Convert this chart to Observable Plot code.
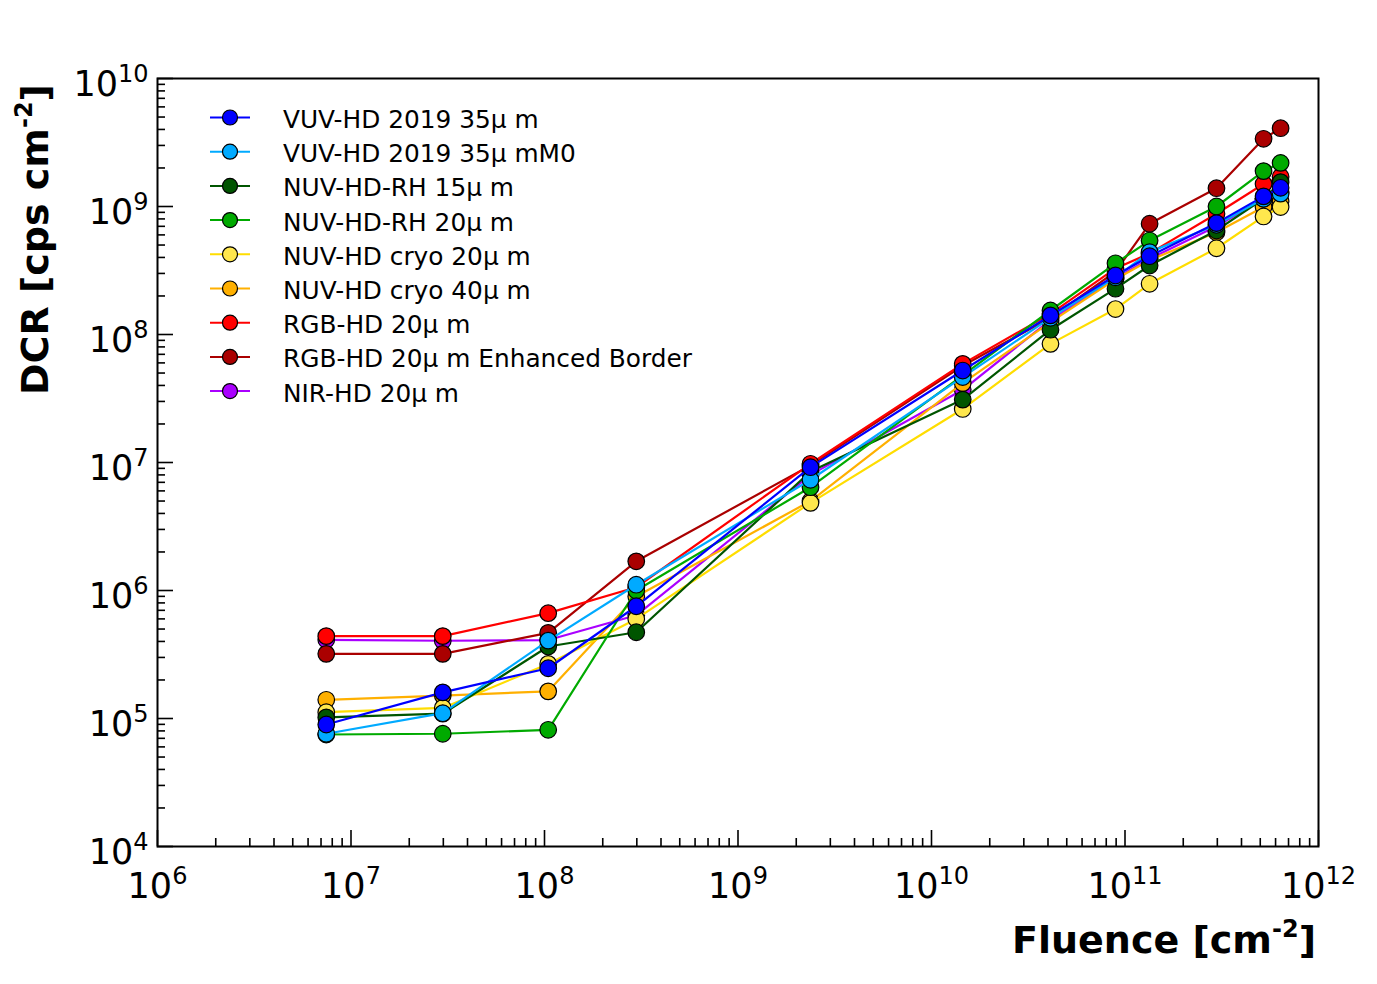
<!DOCTYPE html>
<html><head><meta charset="utf-8">
<script src="https://cdn.jsdelivr.net/npm/d3@7"></script>
<script src="https://cdn.jsdelivr.net/npm/@observablehq/plot@0.6"></script>
<style>body{margin:0;background:#fff;} svg{display:block}</style>
</head><body><div id="chart"></div>
<script>
// Fluence values [cm^-2]
const fluence = [7.45e6, 2.98e7, 1.045e8, 2.98e8, 2.37e9, 1.45e10, 4.12e10, 8.93e10, 1.34e11, 2.97e11, 5.2e11, 6.37e11];

// DCR values [cps cm^-2] per series
const vuvHd35 =      [8.98e4, 1.6e5,  2.47e5, 7.53e5, 9.19e6, 5.23e7, 1.41e8, 2.89e8, 4.09e8, 7.42e8, 1.2e9,  1.4e9];
const vuvHd35mM0 =   [7.6e4,  1.1e5,  4.06e5, 1.11e6, 7.33e6, 4.65e7, 1.35e8, 2.8e8,  4.4e8,  7.2e8,  1.15e9, 1.26e9];
const nuvRh15 =      [1.02e5, 1.09e5, 3.65e5, 4.72e5, 8.5e6,  3.1e7,  1.09e8, 2.28e8, 3.46e8, 6.5e8,  1.15e9, 1.55e9];
const nuvRh20 =      [7.5e4,  7.6e4,  8.16e4, 1.0e6,  6.41e6, 4.8e7,  1.54e8, 3.6e8,  5.42e8, 1.0e9,  1.89e9, 2.19e9];
const nuvCryo20 =    [1.12e5, 1.21e5, 2.67e5, 6.0e5,  4.84e6, 2.62e7, 8.45e7, 1.58e8, 2.49e8, 4.72e8, 8.36e8, 9.9e8];
const nuvCryo40 =    [1.4e5,  1.51e5, 1.63e5, 8.97e5, 5.0e6,  4.17e7, 1.25e8, 2.7e8,  3.8e8,  6.3e8,  9.9e8,  1.1e9];
const rgbHd20 =      [4.4e5,  4.4e5,  6.65e5, 1.06e6, 9.77e6, 5.9e7,  1.45e8, 3.28e8, 4.3e8,  8.77e8, 1.5e9,  1.71e9];
const rgbHd20EB =    [3.2e5,  3.2e5,  4.67e5, 1.69e6, 9.5e6,  5.7e7,  1.35e8, 3.1e8,  7.33e8, 1.39e9, 3.38e9, 4.09e9];
const nirHd20 =      [4.12e5, 4.05e5, 4.1e5,  6.4e5,  8.0e6,  3.7e7,  1.3e8,  2.75e8, 3.9e8,  7.0e8,  1.15e9, 1.3e9];

const seriesNames = ["VUV-HD 2019 35µ m", "VUV-HD 2019 35µ mM0", "NUV-HD-RH 15µ m", "NUV-HD-RH 20µ m",
  "NUV-HD cryo 20µ m", "NUV-HD cryo 40µ m", "RGB-HD 20µ m", "RGB-HD 20µ m Enhanced Border", "NIR-HD 20µ m"];
const seriesValues = [vuvHd35, vuvHd35mM0, nuvRh15, nuvRh20, nuvCryo20, nuvCryo40, rgbHd20, rgbHd20EB, nirHd20];
const lineColors =   ["#0000ff", "#00aaff", "#005500", "#00aa00", "#ffdd00", "#ffb000", "#ff0000", "#aa0000", "#aa00ff"];
const markerColors = ["#0000ff", "#00aaff", "#005500", "#00aa00", "#ffe74d", "#ffb000", "#ff0000", "#aa0000", "#aa00ff"];
const drawOrder = [8, 7, 6, 5, 4, 2, 3, 1, 0];

const xDecades = [6, 7, 8, 9, 10, 11, 12];
const yDecades = [4, 5, 6, 7, 8, 9, 10];
const minorMultipliers = [2, 3, 4, 5, 6, 7, 8, 9];

const xMajor = xDecades.map(e => 10 ** e);
const yMajor = yDecades.map(e => 10 ** e);
const xMinor = xDecades.slice(0, -1).flatMap(e => minorMultipliers.map(m => m * 10 ** e));
const yMinor = yDecades.slice(0, -1).flatMap(e => minorMultipliers.map(m => m * 10 ** e));

const rows = [];
seriesNames.forEach((name, s) => seriesValues[s].forEach((v, i) => {
  if (v != null) rows.push({series: name, idx: s, fluence: fluence[i], dcr: v});
}));

const seriesMarks = drawOrder.flatMap(s => {
  const d = rows.filter(r => r.idx === s);
  return [
    Plot.line(d, {x: "fluence", y: "dcr", stroke: lineColors[s], strokeWidth: 2.2}),
    Plot.dot(d, {x: "fluence", y: "dcr", r: 8.3, fill: markerColors[s], stroke: "black", strokeWidth: 1.2})
  ];
});

const expFormat = v => "10^" + Math.round(Math.log10(v));

const chart = Plot.plot({
  width: 1377, height: 984,
  marginLeft: 157, marginRight: 59, marginTop: 78, marginBottom: 138,
  style: {fontFamily: "DejaVu Sans", background: "white", color: "black"},
  x: {type: "log", domain: [1e6, 1e12]},
  y: {type: "log", domain: [1e4, 1e10]},
  marks: [
    ...seriesMarks,
    Plot.frame({stroke: "black", strokeWidth: 2}),
    Plot.axisX({ticks: xMajor, tickSize: -16, tickFormat: () => "", strokeWidth: 1.6, label: null}),
    Plot.axisX({ticks: xMinor, tickSize: -8, tickFormat: () => "", strokeWidth: 1.6, label: null}),
    Plot.axisX({ticks: xMajor, tickSize: 0, tickPadding: 27, tickFormat: expFormat, fontSize: 35, label: null}),
    Plot.axisY({ticks: yMajor, tickSize: -16, tickFormat: () => "", strokeWidth: 1.6, label: null}),
    Plot.axisY({ticks: yMinor, tickSize: -8, tickFormat: () => "", strokeWidth: 1.6, label: null}),
    Plot.axisY({ticks: yMajor, tickSize: 0, tickPadding: 9, dy: 6, tickFormat: expFormat, fontSize: 35, label: null})
  ]
});
document.getElementById("chart").append(chart);

const svg = d3.select(chart);
// superscript exponents in tick labels
svg.selectAll("text").each(function () {
  const t = d3.select(this);
  const s = t.text();
  if (!/^10\^\d+$/.test(s)) return;
  const [b, e] = s.split("^");
  t.text(b);
  t.append("tspan").attr("dy", -14).attr("font-size", 24).text(e);
});

// axis titles
const xt = svg.append("text").attr("x", 1316).attr("y", 953).attr("text-anchor", "end")
  .attr("font-size", 38).attr("font-weight", "bold").attr("fill", "black");
xt.append("tspan").text("Fluence [cm");
xt.append("tspan").attr("dy", -16).attr("font-size", 24).text("-2");
xt.append("tspan").attr("dy", 16).text("]");

const yt = svg.append("text").attr("transform", "translate(48,84) rotate(-90)").attr("text-anchor", "end")
  .attr("font-size", 38).attr("font-weight", "bold").attr("fill", "black");
yt.append("tspan").text("DCR [cps cm");
yt.append("tspan").attr("dy", -16).attr("font-size", 24).text("-2");
yt.append("tspan").attr("dy", 16).text("]");

// legend
const lg = svg.append("g").attr("text-anchor", "start");
seriesNames.forEach((name, s) => {
  const cy = 117.5 + 34.2 * s;
  lg.append("line").attr("x1", 210).attr("x2", 250).attr("y1", cy).attr("y2", cy)
    .attr("stroke", lineColors[s]).attr("stroke-width", 2);
  lg.append("circle").attr("cx", 230).attr("cy", cy).attr("r", 7.5)
    .attr("fill", markerColors[s]).attr("stroke", "black").attr("stroke-width", 1.2);
  lg.append("text").attr("x", 283).attr("y", cy + 10.5).attr("font-size", 24.8).attr("fill", "black")
    .attr("text-anchor", "start").text(name);
});
</script>
</body></html>
